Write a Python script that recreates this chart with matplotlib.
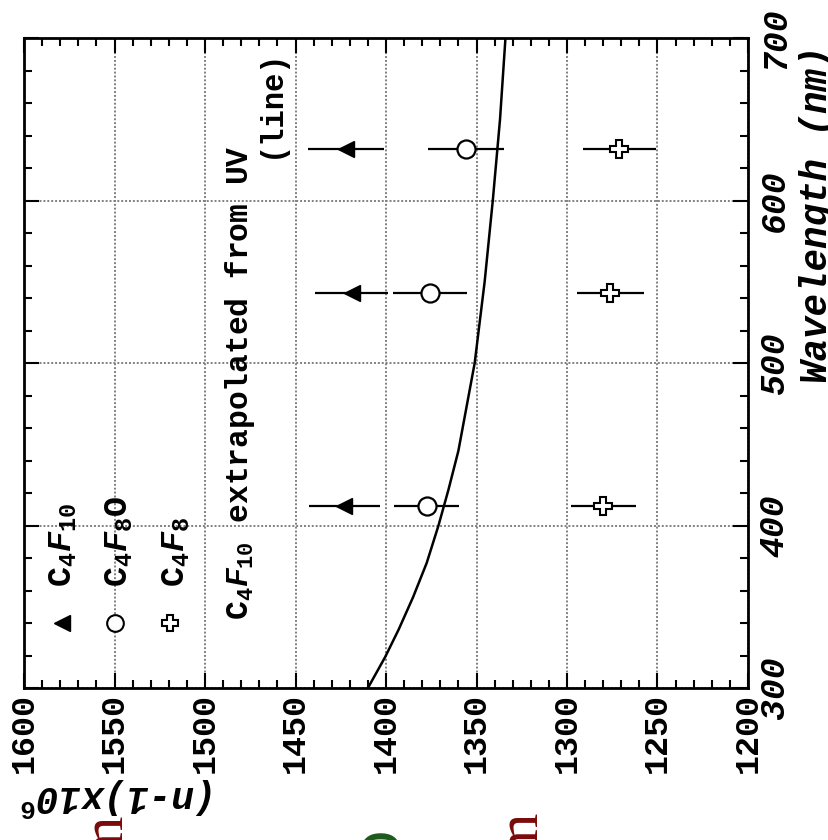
import matplotlib
matplotlib.use('Agg')
import matplotlib.pyplot as plt

# measured points (wavelength in nm, (n-1)x10^6)
wavelengths = [412, 543, 632]
c4f10 = [1423, 1419, 1422]
c4f10_err = [19.5, 20, 21]
c4f8o = [1377.5, 1375.5, 1356]
c4f8o_err = [18, 20.5, 21]
c4f8 = [1280, 1276, 1271]
c4f8_err = [18, 18.5, 20]

# C4F10 extrapolated from UV
uv_wavelength = [300, 319, 336, 356, 377, 400, 422, 446, 500, 550, 600, 650, 700]
uv_index = [1410, 1400.5, 1393, 1385, 1377.5, 1371, 1365.5, 1360, 1351, 1345.5, 1341, 1337, 1334]

index_ticks = [1600, 1550, 1500, 1450, 1400, 1350, 1300, 1250, 1200]
wave_ticks = [300, 400, 500, 600, 700]

plt.rcParams['mathtext.fontset'] = 'custom'
plt.rcParams['mathtext.rm'] = 'Liberation Mono:bold'
plt.rcParams['mathtext.it'] = 'Liberation Mono:italic:bold'
plt.rcParams['mathtext.bf'] = 'Liberation Mono:bold'
mono = 'Liberation Mono'

fig = plt.figure(figsize=(8.29, 8.40), dpi=100)
# the page is turned on its side: (n-1) runs along the bottom, wavelength up the right
ax = fig.add_axes([24 / 829, 1 - 688 / 840, 724 / 829, 650 / 840])

ax.set_xlim(1600, 1200)
ax.set_ylim(300, 700)
ax.set_xticks(index_ticks, [str(t) for t in index_ticks], rotation=90,
              fontfamily=mono, fontweight='bold', fontsize=24)
ax.set_xticks(range(1200, 1601, 10), minor=True)
ax.set_yticks(wave_ticks, [str(t) for t in wave_ticks], rotation=90, va='center',
              fontfamily=mono, fontweight='bold', fontstyle='italic', fontsize=25)
ax.set_yticks(range(300, 701, 20), minor=True)
ax.tick_params(which='both', direction='in', top=True, bottom=True, left=True, right=True,
               labelleft=False, labelright=True, width=1.5, color='black')
ax.tick_params(which='major', length=11)
ax.tick_params(which='minor', length=5.5)
ax.tick_params(axis='x', pad=3.5)
ax.tick_params(axis='y', pad=7)
for s in ax.spines.values():
    s.set_linewidth(2)
ax.grid(True, which='major', color='0.5', linestyle=(0, (1, 1)), linewidth=1.4)

ax.plot(uv_index, uv_wavelength, color='black', lw=1.8)
ax.errorbar(c4f10, wavelengths, xerr=c4f10_err, fmt='<', ms=12, color='black',
            elinewidth=1.6, capsize=0)
ax.errorbar(c4f8o, wavelengths, xerr=c4f8o_err, fmt='o', ms=13, mfc='white', mec='black',
            mew=1.6, color='black', elinewidth=1.6, capsize=0)
ax.errorbar(c4f8, wavelengths, xerr=c4f8_err, fmt='P', ms=13, mfc='white', mec='black',
            mew=1.5, color='black', elinewidth=1.6, capsize=0)

# legend written inside the frame
ax.plot(1579, 340, '<', ms=11, color='black')
ax.plot(1549.7, 340, 'o', ms=12, mfc='white', mec='black', mew=1.5)
ax.plot(1519.3, 340, 'P', ms=12, mfc='white', mec='black', mew=1.5)
txt = dict(rotation=90, rotation_mode='anchor', ha='left', va='baseline',
           fontfamily=mono, fontweight='bold')
ax.text(1573.5, 362, r'$\mathrm{C}_4F_{10}$', fontsize=24, **txt)
ax.text(1542.5, 362, r'$\mathrm{C}_4F_8\mathrm{O}$', fontsize=24, **txt)
ax.text(1511, 362, r'$\mathrm{C}_4F_8$', fontsize=24, **txt)
ax.text(1476.2, 341.8, r'$\mathrm{C}_4F_{10}$ extrapolated from UV', fontsize=22.5, **txt)
ax.text(1459, 626, '(line)', fontsize=22, **txt)

# axis titles
fig.text(827 / 829, 1 - 383 / 840, 'Wavelength (nm)', rotation=90, rotation_mode='anchor',
         ha='left', va='baseline', fontfamily=mono, fontweight='bold', fontstyle='italic',
         fontsize=27)
fig.text(217 / 829, 1 - 785 / 840, r'(n-1)x10$^6$', rotation=180, rotation_mode='anchor',
         ha='left', va='baseline', fontfamily=mono, fontweight='bold', fontstyle='italic',
         fontsize=27)

# bits of the surrounding page cut off at the bottom
fig.text(122 / 829, 1 - 815 / 840, 'm', rotation=90, rotation_mode='anchor', ha='right',
         va='baseline', fontfamily='Liberation Serif', fontsize=43, color='#7a0a0a')
fig.text(398 / 829, 1 - 828 / 840, 'O', rotation=90, rotation_mode='anchor', ha='right',
         va='baseline', fontfamily='Liberation Serif', fontsize=43, color='#1d5a1d')
fig.text(537 / 829, 1 - 812 / 840, 'm', rotation=90, rotation_mode='anchor', ha='right',
         va='baseline', fontfamily='Liberation Serif', fontsize=43, color='#7a0a0a')

fig.savefig('out.png', dpi=100)
